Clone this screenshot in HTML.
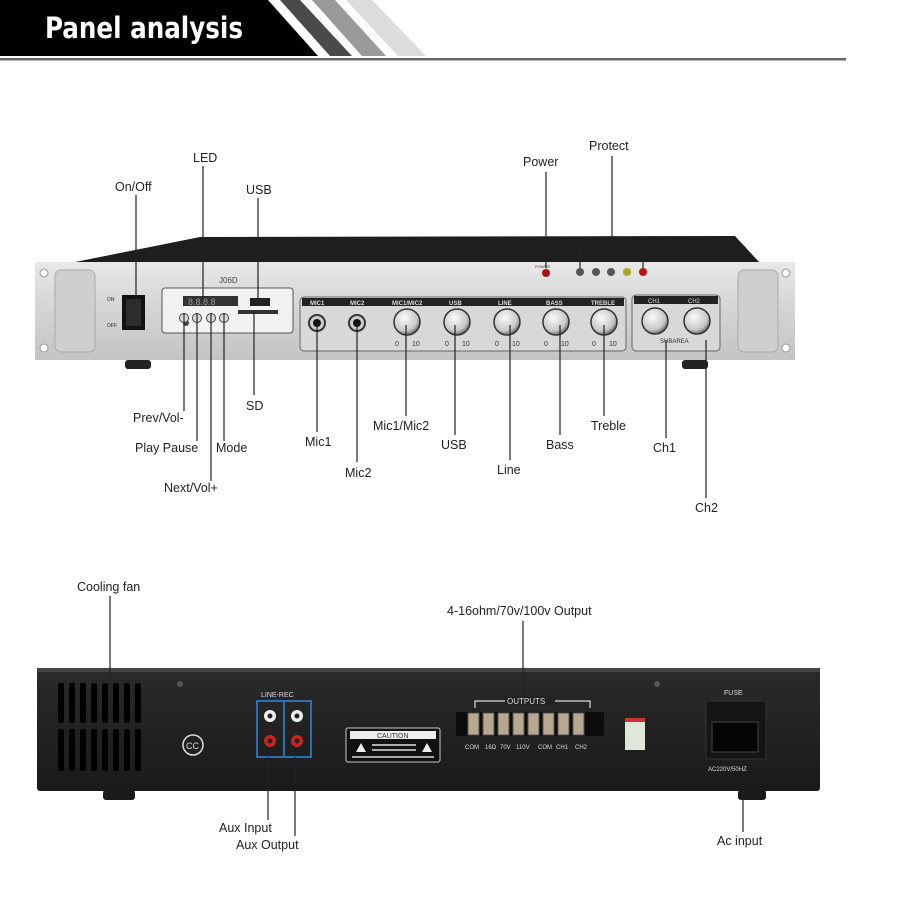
<!DOCTYPE html>
<html><head><meta charset="utf-8"><style>
html,body{margin:0;padding:0;background:#fff}
svg{display:block;font-family:"Liberation Sans",Arial,sans-serif;font-size:12.5px;fill:#222}
</style></head><body>
<svg width="900" height="900" viewBox="0 0 900 900" xmlns="http://www.w3.org/2000/svg">
<defs>
<linearGradient id="silver" x1="0" y1="0" x2="0" y2="1">
<stop offset="0" stop-color="#e8e8e8"/><stop offset="0.5" stop-color="#d4d4d4"/><stop offset="1" stop-color="#c4c4c4"/></linearGradient>
<radialGradient id="knob" cx="0.4" cy="0.35" r="0.7"><stop offset="0" stop-color="#fafafa"/><stop offset="0.7" stop-color="#c8c8c8"/><stop offset="1" stop-color="#555"/></radialGradient>
<linearGradient id="back" x1="0" y1="0" x2="0" y2="1"><stop offset="0" stop-color="#2a2a2a"/><stop offset="1" stop-color="#1a1a1a"/></linearGradient>
</defs>
<!-- header -->
<polygon points="0,0 268,0 318,56 0,56" fill="#000"/>
<polygon points="280,0 300,0 352,56 330,56" fill="#4a4a4a"/>
<polygon points="312,0 335,0 386,56 362,56" fill="#9a9a9a"/>
<polygon points="346,0 372,0 426,56 398,56" fill="#dcdcdc"/>
<text x="45" y="38" style="font-size:29px;font-weight:bold;fill:#fff;font-family:'DejaVu Sans Condensed','Liberation Sans Narrow','Liberation Sans',sans-serif" textLength="198" lengthAdjust="spacingAndGlyphs">Panel analysis</text>
<rect x="0" y="58" width="846" height="2.5" fill="#666"/>

<!-- front device -->
<polygon points="200,237 735,236 760,263 70,263" fill="#1e1e1e"/>
<rect x="35" y="262" width="760" height="98" fill="url(#silver)"/>
<rect x="55" y="270" width="40" height="82" rx="6" fill="#cfcfcf" stroke="#aaa"/>
<rect x="738" y="270" width="40" height="82" rx="6" fill="#cfcfcf" stroke="#aaa"/>
<circle cx="44" cy="273" r="4" fill="#fff" stroke="#999"/><circle cx="44" cy="348" r="4" fill="#fff" stroke="#999"/>
<circle cx="786" cy="273" r="4" fill="#fff" stroke="#999"/><circle cx="786" cy="348" r="4" fill="#fff" stroke="#999"/>
<rect x="125" y="360" width="26" height="9" rx="3" fill="#222"/>
<rect x="682" y="360" width="26" height="9" rx="3" fill="#222"/>
<!-- switch -->
<rect x="122" y="295" width="23" height="35" fill="#111"/>
<rect x="126" y="299" width="15" height="27" fill="#2c2c2c"/>
<text x="107" y="301" style="font-size:5px">ON</text><text x="107" y="327" style="font-size:5px">OFF</text>
<!-- module -->
<text x="219" y="283" style="font-size:8px;fill:#444">J06D</text>
<rect x="162" y="288" width="131" height="45" rx="3" fill="#f2f2f2" stroke="#555"/>
<rect x="183" y="296" width="55" height="10" fill="#333"/>
<text x="188" y="305" style="font-size:9px;fill:#999">8.8.8.8</text>
<rect x="250" y="298" width="20" height="8" fill="#222"/>
<rect x="238" y="310" width="40" height="4" fill="#333"/>
<circle cx="186" cy="323" r="3" fill="#444"/>
<circle cx="184" cy="318" r="4.5" fill="#ddd" stroke="#444"/><circle cx="197" cy="318" r="4.5" fill="#ddd" stroke="#444"/>
<circle cx="211" cy="318" r="4.5" fill="#ddd" stroke="#444"/><circle cx="224" cy="318" r="4.5" fill="#ddd" stroke="#444"/>
<!-- mic box -->
<rect x="300" y="297" width="326" height="54" rx="4" fill="#d8d8d8" stroke="#666"/>
<rect x="302" y="298" width="322" height="8" fill="#222"/>
<g style="font-size:6px;fill:#ddd;font-weight:bold">
<text x="310" y="305">MIC1</text><text x="350" y="305">MIC2</text><text x="392" y="305">MIC1/MIC2</text><text x="449" y="305">USB</text><text x="498" y="305">LINE</text><text x="546" y="305">BASS</text><text x="591" y="305">TREBLE</text></g>
<circle cx="317" cy="323" r="8" fill="#ccc" stroke="#333" stroke-width="2"/><circle cx="317" cy="323" r="4" fill="#111"/>
<circle cx="357" cy="323" r="8" fill="#ccc" stroke="#333" stroke-width="2"/><circle cx="357" cy="323" r="4" fill="#111"/>
<g fill="url(#knob)" stroke="#333" stroke-width="1.5">
<circle cx="407" cy="322" r="13"/><circle cx="457" cy="322" r="13"/><circle cx="507" cy="322" r="13"/><circle cx="556" cy="322" r="13"/><circle cx="604" cy="322" r="13"/></g>
<g style="font-size:7px;fill:#333">
<text x="395" y="346">0</text><text x="412" y="346">10</text><text x="445" y="346">0</text><text x="462" y="346">10</text><text x="495" y="346">0</text><text x="512" y="346">10</text><text x="544" y="346">0</text><text x="561" y="346">10</text><text x="592" y="346">0</text><text x="609" y="346">10</text></g>
<!-- ch box -->
<rect x="632" y="295" width="88" height="56" rx="4" fill="#d8d8d8" stroke="#666"/>
<rect x="634" y="296" width="84" height="8" fill="#222"/>
<text x="648" y="303" style="font-size:6px;fill:#ddd">CH1</text><text x="688" y="303" style="font-size:6px;fill:#ddd">CH2</text>
<circle cx="655" cy="321" r="13" fill="url(#knob)" stroke="#333" stroke-width="1.5"/>
<circle cx="697" cy="321" r="13" fill="url(#knob)" stroke="#333" stroke-width="1.5"/>
<text x="660" y="343" style="font-size:6px;fill:#333">SUBAREA</text>
<!-- leds -->
<text x="535" y="268" style="font-size:4px;fill:#444">POWER</text>
<circle cx="546" cy="273" r="4" fill="#a11"/>
<circle cx="580" cy="272" r="4" fill="#555"/><circle cx="596" cy="272" r="4" fill="#555"/><circle cx="611" cy="272" r="4" fill="#555"/>
<circle cx="627" cy="272" r="4" fill="#aa2"/><circle cx="643" cy="272" r="4" fill="#b11"/>

<!-- front labels -->
<g stroke="#222" stroke-width="1.2" fill="none">
<line x1="136" y1="195" x2="136" y2="300"/>
<line x1="203" y1="166" x2="203" y2="300"/>
<line x1="258" y1="198" x2="258" y2="300"/>
<line x1="546" y1="172" x2="546" y2="268"/>
<line x1="612" y1="156" x2="612" y2="244"/>
<polyline points="580,268 580,244 643,244 643,268"/>
<line x1="184" y1="313" x2="184" y2="411"/>
<line x1="197" y1="313" x2="197" y2="441"/>
<line x1="211" y1="313" x2="211" y2="481"/>
<line x1="224" y1="313" x2="224" y2="441"/>
<line x1="254" y1="312" x2="254" y2="395"/>
<line x1="317" y1="323" x2="317" y2="432"/>
<line x1="357" y1="323" x2="357" y2="462"/>
<line x1="406" y1="325" x2="406" y2="416"/>
<line x1="455" y1="325" x2="455" y2="435"/>
<line x1="510" y1="325" x2="510" y2="460"/>
<line x1="560" y1="325" x2="560" y2="435"/>
<line x1="604" y1="325" x2="604" y2="416"/>
<line x1="666" y1="340" x2="666" y2="438"/>
<line x1="706" y1="340" x2="706" y2="498"/>
</g>
<text x="115" y="191">On/Off</text>
<text x="193" y="162">LED</text>
<text x="246" y="194">USB</text>
<text x="523" y="166">Power</text>
<text x="589" y="150">Protect</text>
<text x="133" y="422">Prev/Vol-</text>
<text x="135" y="452">Play Pause</text>
<text x="216" y="452">Mode</text>
<text x="164" y="492">Next/Vol+</text>
<text x="246" y="410">SD</text>
<text x="305" y="446">Mic1</text>
<text x="345" y="477">Mic2</text>
<text x="373" y="430">Mic1/Mic2</text>
<text x="441" y="449">USB</text>
<text x="497" y="474">Line</text>
<text x="546" y="449">Bass</text>
<text x="591" y="430">Treble</text>
<text x="653" y="452">Ch1</text>
<text x="695" y="512">Ch2</text>

<!-- back device -->
<rect x="37" y="668" width="783" height="123" rx="3" fill="url(#back)"/>
<rect x="37" y="668" width="783" height="4" fill="#444"/>
<rect x="103" y="790" width="32" height="10" rx="3" fill="#1a1a1a"/>
<rect x="738" y="790" width="28" height="10" rx="3" fill="#1a1a1a"/>
<g fill="#000">
<rect x="58" y="683" width="6" height="40" rx="2"/><rect x="69" y="683" width="6" height="40" rx="2"/><rect x="80" y="683" width="6" height="40" rx="2"/><rect x="91" y="683" width="6" height="40" rx="2"/><rect x="102" y="683" width="6" height="40" rx="2"/><rect x="113" y="683" width="6" height="40" rx="2"/><rect x="124" y="683" width="6" height="40" rx="2"/><rect x="135" y="683" width="6" height="40" rx="2"/>
<rect x="58" y="729" width="6" height="42" rx="2"/><rect x="69" y="729" width="6" height="42" rx="2"/><rect x="80" y="729" width="6" height="42" rx="2"/><rect x="91" y="729" width="6" height="42" rx="2"/><rect x="102" y="729" width="6" height="42" rx="2"/><rect x="113" y="729" width="6" height="42" rx="2"/><rect x="124" y="729" width="6" height="42" rx="2"/><rect x="135" y="729" width="6" height="42" rx="2"/>
</g>
<circle cx="180" cy="684" r="3" fill="#555"/><circle cx="657" cy="684" r="3" fill="#555"/>
<circle cx="193" cy="745" r="10" fill="none" stroke="#ddd" stroke-width="1.5"/>
<text x="186" y="749" style="font-size:9px;fill:#ddd">CC</text>
<!-- line rec -->
<text x="261" y="697" style="font-size:7px;fill:#ddd">LINE-REC</text>
<rect x="257" y="701" width="27" height="56" fill="none" stroke="#2a6fb0" stroke-width="2"/>
<rect x="284" y="701" width="27" height="56" fill="none" stroke="#2a6fb0" stroke-width="2"/>
<circle cx="270" cy="716" r="6" fill="#eee"/><circle cx="270" cy="716" r="2.5" fill="#222"/>
<circle cx="297" cy="716" r="6" fill="#eee"/><circle cx="297" cy="716" r="2.5" fill="#222"/>
<circle cx="270" cy="741" r="6" fill="#c22"/><circle cx="270" cy="741" r="2.5" fill="#222"/>
<circle cx="297" cy="741" r="6" fill="#c22"/><circle cx="297" cy="741" r="2.5" fill="#222"/>
<!-- caution -->
<rect x="346" y="728" width="94" height="34" rx="2" fill="#111" stroke="#ccc"/>
<rect x="350" y="731" width="86" height="8" fill="#eee"/>
<text x="377" y="738" style="font-size:7px;fill:#333">CAUTION</text>
<polygon points="356,752 361,743 366,752" fill="#eee"/><polygon points="422,752 427,743 432,752" fill="#eee"/>
<rect x="372" y="744" width="44" height="2" fill="#aaa"/><rect x="372" y="749" width="44" height="2" fill="#aaa"/><rect x="352" y="756" width="82" height="2" fill="#aaa"/>
<!-- outputs -->
<polyline points="475,708 475,701 590,701 590,708" fill="none" stroke="#ddd" stroke-width="1.2"/>
<rect x="505" y="696" width="50" height="9" fill="#222"/>
<text x="507" y="704" style="font-size:8px;fill:#ddd">OUTPUTS</text>
<rect x="456" y="712" width="148" height="24" fill="#0c0c0c"/>
<g fill="#b8a890" stroke="#555">
<rect x="468" y="713" width="11" height="22"/><rect x="483" y="713" width="11" height="22"/><rect x="498" y="713" width="11" height="22"/><rect x="513" y="713" width="11" height="22"/><rect x="528" y="713" width="11" height="22"/><rect x="543" y="713" width="11" height="22"/><rect x="558" y="713" width="11" height="22"/><rect x="573" y="713" width="11" height="22"/></g>
<g style="font-size:6px;fill:#ddd">
<text x="465" y="749">COM</text><text x="485" y="749">16Ω</text><text x="500" y="749">70V</text><text x="516" y="749">110V</text><text x="538" y="749">COM</text><text x="556" y="749">CH1</text><text x="575" y="749">CH2</text></g>
<rect x="625" y="718" width="20" height="32" fill="#dfe8d8"/><rect x="625" y="718" width="20" height="4" fill="#c33"/>
<!-- fuse -->
<text x="724" y="695" style="font-size:7px;fill:#ddd">FUSE</text>
<rect x="706" y="701" width="60" height="58" fill="#151515" stroke="#333"/>
<rect x="712" y="722" width="46" height="30" fill="#050505" stroke="#444"/>
<text x="708" y="771" style="font-size:6px;fill:#ddd">AC220V/50HZ</text>

<!-- back labels -->
<g stroke="#222" stroke-width="1.2">
<line x1="110" y1="596" x2="110" y2="680"/>
<line x1="523" y1="621" x2="523" y2="698"/>
<line x1="268" y1="757" x2="268" y2="820"/>
<line x1="295" y1="757" x2="295" y2="836"/>
<line x1="743" y1="790" x2="743" y2="832"/>
</g>
<text x="77" y="591">Cooling fan</text>
<text x="447" y="615">4-16ohm/70v/100v Output</text>
<text x="219" y="832">Aux Input</text>
<text x="236" y="849">Aux Output</text>
<text x="717" y="845">Ac input</text>
</svg>
</body></html>
